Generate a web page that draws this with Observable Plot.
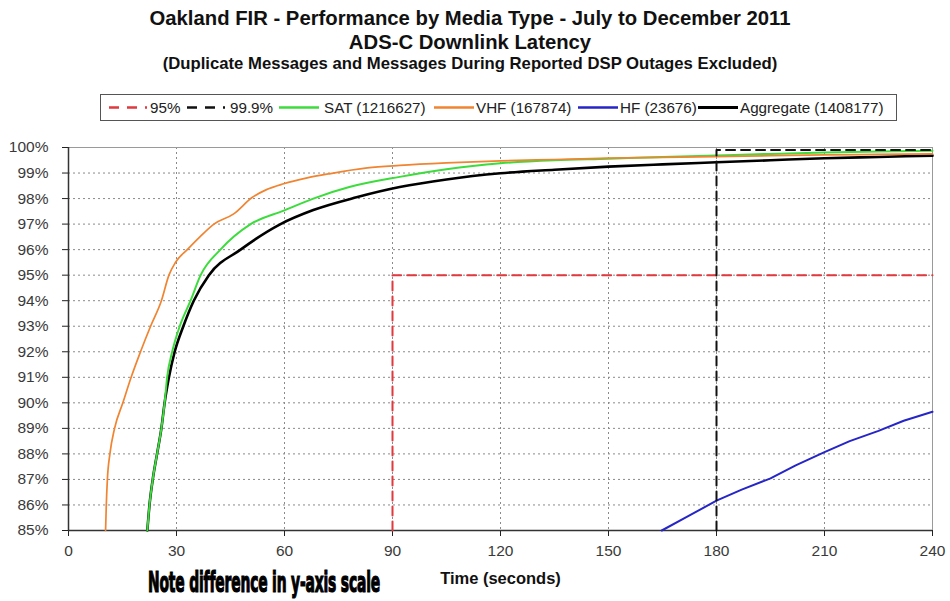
<!DOCTYPE html>
<html><head><meta charset="utf-8">
<script src="https://cdn.jsdelivr.net/npm/d3@7"></script>
<script src="https://cdn.jsdelivr.net/npm/@observablehq/plot@0.6"></script>
<style>
body{margin:0;background:#fff;font-family:"Liberation Sans",Arial,sans-serif;color:#111;}
#wrap{position:relative;width:950px;height:601px;overflow:hidden;}
#head{position:relative;height:130px;}
.tt{position:absolute;left:0;width:940px;text-align:center;font-weight:bold;white-space:nowrap;line-height:1.15;}
#legend{position:absolute;left:100px;top:94px;width:797px;height:27px;border:1px solid #555;box-sizing:border-box;}
.li{position:absolute;top:0;height:25px;line-height:25px;font-size:15.2px;color:#222;white-space:nowrap;}
.sw{position:absolute;top:0;}
#note{position:absolute;left:148px;top:565px;font-family:"Liberation Sans Narrow","DejaVu Sans Condensed",sans-serif;font-weight:bold;font-size:29px;color:#000;transform-origin:0 0;white-space:nowrap;-webkit-text-stroke:1.2px #000;letter-spacing:-0.3px;}
svg g[aria-label="x-axis label"] text{font-weight:bold;font-size:16.5px;fill:#111;}
</style></head>
<body>
<div id="wrap">
  <div id="head">
    <div class="tt" style="top:7px;font-size:20.3px">Oakland FIR - Performance by Media Type - July to December 2011</div>
    <div class="tt" style="top:31px;font-size:20.3px">ADS-C Downlink Latency</div>
    <div class="tt" style="top:54px;font-size:16.7px">(Duplicate Messages and Messages During Reported DSP Outages Excluded)</div>
    <div id="legend"></div>
  </div>
  <div id="chart"></div>
  <div id="note">Note difference in y-axis scale</div>
</div>
<script>
// ---- data ----
const xTicks = [0, 30, 60, 90, 120, 150, 180, 210, 240];
const yTicks = [85, 86, 87, 88, 89, 90, 91, 92, 93, 94, 95, 96, 97, 98, 99, 100];

const vhfT = [10.3, 10.5, 10.8, 11.5, 12.8, 15.1, 17.4, 20, 22.8, 25.8, 27.9, 29.7, 33, 36.5, 40.4, 45.9, 51, 55, 59.8, 66, 72.8, 83, 92, 105, 120, 135, 150, 165, 180, 195, 210, 225, 240];
const vhfY = [85, 86, 87, 88, 89, 90, 91, 92, 93, 94, 95, 95.5, 96, 96.5, 97, 97.4, 98.04, 98.35, 98.58, 98.8, 98.98, 99.2, 99.3, 99.4, 99.48, 99.53, 99.58, 99.61, 99.64, 99.68, 99.71, 99.73, 99.75];

const satT = [21.9, 22.5, 23.4, 24.6, 25.8, 26.7, 27.4, 28.8, 30.9, 33.9, 36.7, 42.2, 50.6, 59.8, 68, 78, 92, 105, 120, 135, 150, 165, 180, 195, 210, 225, 240];
const satY = [85, 86, 87, 88, 89, 90, 91, 92, 93, 94, 95, 96, 97, 97.53, 98, 98.45, 98.85, 99.15, 99.38, 99.5, 99.56, 99.63, 99.69, 99.75, 99.8, 99.84, 99.87];

const aggT = [21.9, 22.5, 23.4, 24.6, 25.8, 26.7, 27.9, 29.5, 31.9, 34.8, 39, 47.8, 58.9, 68, 80, 92, 105, 120, 135, 150, 165, 180, 195, 210, 225, 240];
const aggY = [85, 86, 87, 88, 89, 90, 91, 92, 93, 94, 95, 96, 97, 97.55, 98.05, 98.45, 98.75, 98.99, 99.13, 99.25, 99.34, 99.42, 99.5, 99.58, 99.63, 99.68];

const hfT = [164.8, 172, 180, 187, 195, 202, 210, 217, 225, 232, 240];
const hfY = [85, 85.55, 86.17, 86.6, 87.04, 87.55, 88.07, 88.5, 88.9, 89.3, 89.65];

const p95T = [90, 90, 240];
const p95Y = [85, 95, 95];
const p999T = [180, 180, 240];
const p999Y = [85, 99.9, 99.9];

const seriesNames = ["95%", "99.9%", "SAT (1216627)", "VHF (167874)", "HF (23676)", "Aggregate (1408177)"];
const seriesColors = ["#e0393e", "#111111", "#3ddc3d", "#f08430", "#2525c8", "#000000"];

// ---- build tables ----
const zip = (T, Y) => T.map((t, i) => ({t, v: Y[i]}));

const chart = Plot.plot({
  width: 950,
  height: 471,
  marginTop: 17,
  marginLeft: 68,
  marginRight: 18,
  marginBottom: 71,
  x: {domain: [0, 240]},
  y: {domain: [85, 100]},
  style: {fontFamily: "'Liberation Sans', Arial, sans-serif", fontSize: "15.5px", color: "#3a3a3a", background: "#fff"},
  marks: [
    Plot.gridX(xTicks, {stroke: "#8a8a8a", strokeOpacity: 1, strokeDasharray: "2,3"}),
    Plot.gridY(yTicks, {stroke: "#8a8a8a", strokeOpacity: 1, strokeDasharray: "2,3"}),
    Plot.ruleY([100], {stroke: "#9a9a9a"}),
    Plot.ruleX([240], {stroke: "#9a9a9a"}),
    Plot.axisX(xTicks, {tickSize: 6, tickPadding: 8, stroke: "#222", label: "Time (seconds)", labelAnchor: "center", labelOffset: 53, labelArrow: "none"}),
    Plot.axisY(yTicks, {tickSize: 6, tickPadding: 14, stroke: "#222", tickFormat: d => d + "%", label: null}),
    Plot.ruleX([0], {stroke: "#333", strokeWidth: 1.5}),
    Plot.ruleY([85], {stroke: "#333", strokeWidth: 1.5}),
    Plot.line(zip(p95T, p95Y), {x: "t", y: "v", stroke: seriesColors[0], strokeWidth: 2, strokeDasharray: "9,6"}),
    Plot.line(zip(hfT, hfY), {x: "t", y: "v", stroke: seriesColors[4], strokeWidth: 2}),
    Plot.line(zip(aggT, aggY), {x: "t", y: "v", stroke: seriesColors[5], strokeWidth: 2.6, curve: "monotone-x"}),
    Plot.line(zip(satT, satY), {x: "t", y: "v", stroke: seriesColors[2], strokeWidth: 2, curve: "monotone-x"}),
    Plot.line(zip(vhfT, vhfY), {x: "t", y: "v", stroke: seriesColors[3], strokeWidth: 1.7, curve: "monotone-x"}),
    Plot.line(zip(p999T, p999Y), {x: "t", y: "v", stroke: seriesColors[1], strokeWidth: 2, strokeDasharray: "9,6"})
  ]
});
document.getElementById("chart").appendChild(chart);

// ---- legend ----
const legend = document.getElementById("legend");
const swLeft = [6, 84, 178, 333, 477, 597];
const txLeft = [49, 129, 223, 375, 519, 639];
seriesNames.forEach((name, i) => {
  const dashed = i < 2;
  const sw = document.createElementNS("http://www.w3.org/2000/svg", "svg");
  sw.setAttribute("class", "sw");
  sw.setAttribute("width", 40);
  sw.setAttribute("height", 25);
  sw.style.left = swLeft[i] + "px";
  sw.innerHTML = `<line x1="0" x2="40" y1="12.5" y2="12.5" stroke="${seriesColors[i]}" stroke-width="${i === 5 ? 3 : 2.5}" ${dashed ? 'stroke-dasharray="10,8" stroke-dashoffset="-2"' : ''}/>`;
  legend.appendChild(sw);
  const tx = document.createElement("div");
  tx.className = "li";
  tx.style.left = txLeft[i] + "px";
  tx.textContent = name;
  legend.appendChild(tx);
});

// ---- note: squeeze to reference width ----
const note = document.getElementById("note");
const w = note.getBoundingClientRect().width;
note.style.transform = `scale(${232 / w}, 1)`;
</script>
</body></html>
